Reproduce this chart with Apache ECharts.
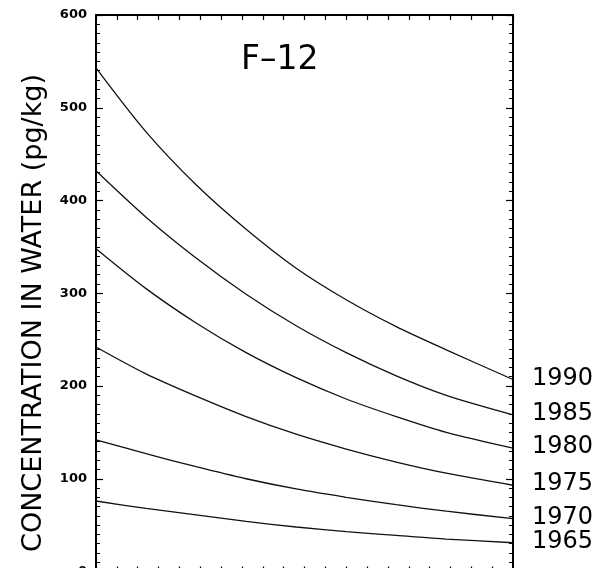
<!DOCTYPE html>
<html>
<head>
<meta charset="utf-8">
<script src="https://cdn.jsdelivr.net/npm/echarts@6/dist/echarts.min.js"></script>
<style>html,body{margin:0;padding:0;background:#fff}#c{width:605px;height:568px}</style>
</head>
<body>
<div id="c"></div>
<script>
const xPos = [0, 2.4, 4.8, 7.2, 9.6, 12, 14.4, 16.8, 20];
const years = ['1990', '1985', '1980', '1975', '1970', '1965'];
const c1990 = [543, 474, 417, 369, 327, 293, 264, 239, 207];
const c1985 = [432, 382, 338, 299, 265, 236, 211, 190, 169];
const c1980 = [348, 305, 268, 236, 209, 186, 167, 150, 133];
const c1975 = [242, 213, 189, 167, 148, 132, 118, 106, 93];
const c1970 = [142, 127, 113, 100, 89, 80, 72, 65, 57];
const c1965 = [76, 68, 61, 54, 48, 43, 39, 35, 31];
const yTicks = [0, 100, 200, 300, 400, 500, 600];
const titleText = 'F–12';
const yTitle = 'CONCENTRATION IN WATER (pg/kg)';

const curves = [c1990, c1985, c1980, c1975, c1970, c1965];

const chart = echarts.init(document.getElementById('c'));
const axisLine = {show: true, onZero: false, lineStyle: {color: '#000', width: 2}};
const xCommon = {
  type: 'value', min: 0, max: 20, interval: 1,
  axisLine: axisLine,
  axisTick: {show: true, inside: true, length: 5, lineStyle: {color: '#000', width: 1.2}},
  axisLabel: {show: false},
  splitLine: {show: false}
};
const yCommon = {
  type: 'value', min: 0, max: 600, interval: 100,
  axisLine: axisLine,
  axisTick: {show: true, inside: true, length: 7, lineStyle: {color: '#000', width: 1.2}},
  minorTick: {show: true, splitNumber: 10, length: 4, lineStyle: {color: '#000', width: 1}},
  splitLine: {show: false}
};
chart.setOption({
  animation: false,
  backgroundColor: '#fff',
  grid: {left: 96, right: 92, top: 15, bottom: -3.5, outerBoundsMode: 'none', containLabel: false},
  xAxis: [
    Object.assign({position: 'bottom'}, xCommon),
    Object.assign({position: 'top'}, xCommon)
  ],
  yAxis: [
    Object.assign({position: 'left', axisLabel: {show: true, margin: 9, color: '#000', fontFamily: 'DejaVu Sans', fontWeight: 'bold', fontSize: 13,
      formatter: v => yTicks.indexOf(v) >= 0 ? String(v) : ''}}, yCommon),
    Object.assign({position: 'right', axisLabel: {show: false}}, yCommon)
  ],
  graphic: [
    {type: 'text', left: 241, top: 44, style: {text: titleText, fill: '#000', font: '33px "DejaVu Sans"'}},
    {type: 'text', x: 34, y: 313, rotation: Math.PI / 2,
      style: {text: yTitle, fill: '#000', font: '27px "DejaVu Sans"', textAlign: 'center', textVerticalAlign: 'middle'}}
  ],
  series: curves.map((vals, i) => ({
    type: 'line', name: years[i], xAxisIndex: 0, yAxisIndex: 0,
    data: vals.map((v, j) => [xPos[j], v]),
    smooth: 0.3, showSymbol: false, symbol: 'none',
    lineStyle: {color: '#111', width: 1.3},
    endLabel: {show: true, formatter: years[i], distance: 19, offset: [0, -1], color: '#000', fontFamily: 'DejaVu Sans', fontSize: 24},
    emphasis: {disabled: true}
  }))
});
</script>
</body>
</html>
